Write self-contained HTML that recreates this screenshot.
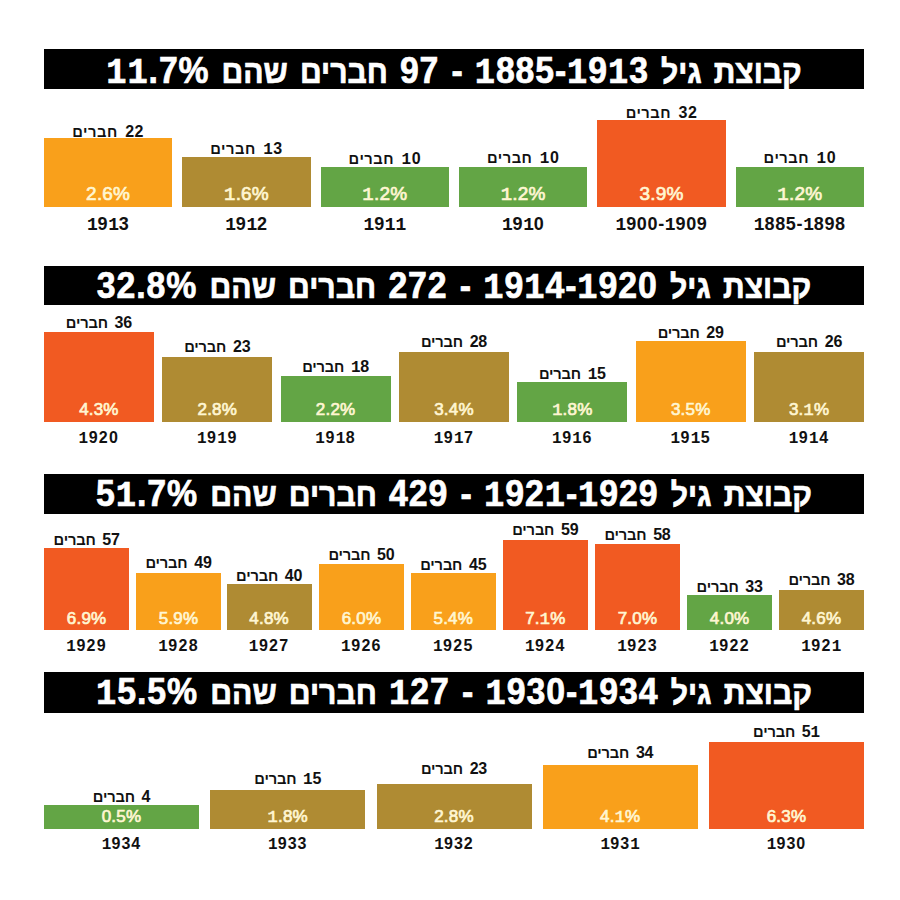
<!DOCTYPE html>
<html><head><meta charset="utf-8"><style>
html,body{margin:0;padding:0;background:#fff;}
body{width:900px;height:900px;position:relative;overflow:hidden;font-family:"Liberation Sans",sans-serif;}
.hd{position:absolute;left:44px;width:820px;background:#000;}
.ht{position:absolute;left:4px;width:900px;transform-origin:50% 50%;text-align:center;color:#fff;font-weight:bold;line-height:1;white-space:nowrap;font-size:37px;letter-spacing:0px;word-spacing:3px;-webkit-text-stroke:0.7px #fff;}
.bar{position:absolute;}
.t{position:absolute;text-align:center;font-weight:bold;line-height:1;white-space:nowrap;}
.cnt{color:#111;word-spacing:2.5px;}
.cnt b{font-size:0.92em;}
.pct{color:#FFF6D2;font-weight:normal !important;-webkit-text-stroke:0.7px #FFF6D2;}
.ht b{font-size:33px;font-weight:bold;}
.ht u{text-decoration:none;letter-spacing:1px;}
i{font-style:normal;font-family:"Liberation Mono",monospace;}
.yr i{margin-right:-0.8px;}
.yr{color:#111;}
</style></head><body>
<div class="hd" style="top:49.4px;height:40px"></div>
<div class="ht" dir="rtl" style="top:52.00px;transform:scaleX(0.912)"><b>קבוצת</b> <b>גיל</b> <u><i>1</i>885-<i>1</i>9<i>1</i>3</u> - <u>97</u> <b>חברים</b> <b>שהם</b> <u><i>1</i><i>1</i>.7%</u></div>
<div class="bar" style="left:44.00px;top:138.3px;width:128.33px;height:69.00px;background:#F9A01B"></div>
<div class="t cnt" dir="rtl" style="left:44.00px;width:128.33px;top:124.30px;font-size:16px;letter-spacing:0.5px">22 <b>חברים</b></div>
<div class="t pct" style="left:44.00px;width:128.33px;top:184.30px;font-size:19px;letter-spacing:0.2px">2.6%</div>
<div class="t yr" style="left:44.00px;width:128.33px;top:215.30px;font-size:18px;letter-spacing:0.6px"><i>1</i>9<i>1</i>3</div>
<div class="bar" style="left:182.33px;top:157.2px;width:128.33px;height:50.10px;background:#AF8B33"></div>
<div class="t cnt" dir="rtl" style="left:182.33px;width:128.33px;top:140.70px;font-size:16px;letter-spacing:0.5px"><i>1</i>3 <b>חברים</b></div>
<div class="t pct" style="left:182.33px;width:128.33px;top:184.30px;font-size:19px;letter-spacing:0.2px"><i>1</i>.6%</div>
<div class="t yr" style="left:182.33px;width:128.33px;top:215.30px;font-size:18px;letter-spacing:0.6px"><i>1</i>9<i>1</i>2</div>
<div class="bar" style="left:320.67px;top:167px;width:128.33px;height:40.30px;background:#63A545"></div>
<div class="t cnt" dir="rtl" style="left:320.67px;width:128.33px;top:150.50px;font-size:16px;letter-spacing:0.5px"><i>1</i>0 <b>חברים</b></div>
<div class="t pct" style="left:320.67px;width:128.33px;top:184.30px;font-size:19px;letter-spacing:0.2px"><i>1</i>.2%</div>
<div class="t yr" style="left:320.67px;width:128.33px;top:215.30px;font-size:18px;letter-spacing:0.6px"><i>1</i>9<i>1</i><i>1</i></div>
<div class="bar" style="left:459.00px;top:166.7px;width:128.33px;height:40.60px;background:#63A545"></div>
<div class="t cnt" dir="rtl" style="left:459.00px;width:128.33px;top:150.20px;font-size:16px;letter-spacing:0.5px"><i>1</i>0 <b>חברים</b></div>
<div class="t pct" style="left:459.00px;width:128.33px;top:184.30px;font-size:19px;letter-spacing:0.2px"><i>1</i>.2%</div>
<div class="t yr" style="left:459.00px;width:128.33px;top:215.30px;font-size:18px;letter-spacing:0.6px"><i>1</i>9<i>1</i>0</div>
<div class="bar" style="left:597.33px;top:119.5px;width:128.33px;height:87.80px;background:#F15A22"></div>
<div class="t cnt" dir="rtl" style="left:597.33px;width:128.33px;top:104.50px;font-size:16px;letter-spacing:0.5px">32 <b>חברים</b></div>
<div class="t pct" style="left:597.33px;width:128.33px;top:184.30px;font-size:19px;letter-spacing:0.2px">3.9%</div>
<div class="t yr" style="left:597.33px;width:128.33px;top:215.30px;font-size:18px;letter-spacing:0.65px"><i>1</i>900-<i>1</i>909</div>
<div class="bar" style="left:735.67px;top:166.7px;width:128.33px;height:40.60px;background:#63A545"></div>
<div class="t cnt" dir="rtl" style="left:735.67px;width:128.33px;top:150.20px;font-size:16px;letter-spacing:0.5px"><i>1</i>0 <b>חברים</b></div>
<div class="t pct" style="left:735.67px;width:128.33px;top:184.30px;font-size:19px;letter-spacing:0.2px"><i>1</i>.2%</div>
<div class="t yr" style="left:735.67px;width:128.33px;top:215.30px;font-size:18px;letter-spacing:0.65px"><i>1</i>885-<i>1</i>898</div>
<div class="hd" style="top:265.7px;height:39.8px"></div>
<div class="ht" dir="rtl" style="top:266.90px;transform:scaleX(0.915)"><b>קבוצת</b> <b>גיל</b> <u><i>1</i>9<i>1</i>4-<i>1</i>920</u> - <u>272</u> <b>חברים</b> <b>שהם</b> <u>32.8%</u></div>
<div class="bar" style="left:44.00px;top:331.5px;width:109.86px;height:90.30px;background:#F15A22"></div>
<div class="t cnt" dir="rtl" style="left:44.00px;width:109.86px;top:315.00px;font-size:16px;letter-spacing:-0.2px">36 <b>חברים</b></div>
<div class="t pct" style="left:44.00px;width:109.86px;top:400.80px;font-size:17px;letter-spacing:0.2px">4.3%</div>
<div class="t yr" style="left:44.00px;width:109.86px;top:430.30px;font-size:16px;letter-spacing:1.3px"><i>1</i>920</div>
<div class="bar" style="left:162.36px;top:356.7px;width:109.86px;height:65.10px;background:#AF8B33"></div>
<div class="t cnt" dir="rtl" style="left:162.36px;width:109.86px;top:339.20px;font-size:16px;letter-spacing:-0.2px">23 <b>חברים</b></div>
<div class="t pct" style="left:162.36px;width:109.86px;top:400.80px;font-size:17px;letter-spacing:0.2px">2.8%</div>
<div class="t yr" style="left:162.36px;width:109.86px;top:430.30px;font-size:16px;letter-spacing:1.3px"><i>1</i>9<i>1</i>9</div>
<div class="bar" style="left:280.71px;top:376.2px;width:109.86px;height:45.60px;background:#63A545"></div>
<div class="t cnt" dir="rtl" style="left:280.71px;width:109.86px;top:359.20px;font-size:16px;letter-spacing:-0.2px"><i>1</i>8 <b>חברים</b></div>
<div class="t pct" style="left:280.71px;width:109.86px;top:400.80px;font-size:17px;letter-spacing:0.2px">2.2%</div>
<div class="t yr" style="left:280.71px;width:109.86px;top:430.30px;font-size:16px;letter-spacing:1.3px"><i>1</i>9<i>1</i>8</div>
<div class="bar" style="left:399.07px;top:351.7px;width:109.86px;height:70.10px;background:#AF8B33"></div>
<div class="t cnt" dir="rtl" style="left:399.07px;width:109.86px;top:333.70px;font-size:16px;letter-spacing:-0.2px">28 <b>חברים</b></div>
<div class="t pct" style="left:399.07px;width:109.86px;top:400.80px;font-size:17px;letter-spacing:0.2px">3.4%</div>
<div class="t yr" style="left:399.07px;width:109.86px;top:430.30px;font-size:16px;letter-spacing:1.3px"><i>1</i>9<i>1</i>7</div>
<div class="bar" style="left:517.43px;top:381.7px;width:109.86px;height:40.10px;background:#63A545"></div>
<div class="t cnt" dir="rtl" style="left:517.43px;width:109.86px;top:365.70px;font-size:16px;letter-spacing:-0.2px"><i>1</i>5 <b>חברים</b></div>
<div class="t pct" style="left:517.43px;width:109.86px;top:400.80px;font-size:17px;letter-spacing:0.2px"><i>1</i>.8%</div>
<div class="t yr" style="left:517.43px;width:109.86px;top:430.30px;font-size:16px;letter-spacing:1.3px"><i>1</i>9<i>1</i>6</div>
<div class="bar" style="left:635.79px;top:341.3px;width:109.86px;height:80.50px;background:#F9A01B"></div>
<div class="t cnt" dir="rtl" style="left:635.79px;width:109.86px;top:325.30px;font-size:16px;letter-spacing:-0.2px">29 <b>חברים</b></div>
<div class="t pct" style="left:635.79px;width:109.86px;top:400.80px;font-size:17px;letter-spacing:0.2px">3.5%</div>
<div class="t yr" style="left:635.79px;width:109.86px;top:430.30px;font-size:16px;letter-spacing:1.3px"><i>1</i>9<i>1</i>5</div>
<div class="bar" style="left:754.14px;top:351.7px;width:109.86px;height:70.10px;background:#AF8B33"></div>
<div class="t cnt" dir="rtl" style="left:754.14px;width:109.86px;top:333.70px;font-size:16px;letter-spacing:-0.2px">26 <b>חברים</b></div>
<div class="t pct" style="left:754.14px;width:109.86px;top:400.80px;font-size:17px;letter-spacing:0.2px">3.<i>1</i>%</div>
<div class="t yr" style="left:754.14px;width:109.86px;top:430.30px;font-size:16px;letter-spacing:1.3px"><i>1</i>9<i>1</i>4</div>
<div class="hd" style="top:474px;height:40.3px"></div>
<div class="ht" dir="rtl" style="top:474.60px;transform:scaleX(0.915)"><b>קבוצת</b> <b>גיל</b> <u><i>1</i>92<i>1</i>-<i>1</i>929</u> - <u>429</u> <b>חברים</b> <b>שהם</b> <u>5<i>1</i>.7%</u></div>
<div class="bar" style="left:44.00px;top:548.2px;width:85.30px;height:82.20px;background:#F15A22"></div>
<div class="t cnt" dir="rtl" style="left:44.00px;width:85.30px;top:531.70px;font-size:16px;letter-spacing:-0.2px">57 <b>חברים</b></div>
<div class="t pct" style="left:44.00px;width:85.30px;top:610.20px;font-size:17px;letter-spacing:0.2px">6.9%</div>
<div class="t yr" style="left:44.00px;width:85.30px;top:637.90px;font-size:16px;letter-spacing:1.3px"><i>1</i>929</div>
<div class="bar" style="left:136.00px;top:572.9px;width:85.10px;height:57.50px;background:#F9A01B"></div>
<div class="t cnt" dir="rtl" style="left:136.00px;width:85.10px;top:555.40px;font-size:16px;letter-spacing:-0.2px">49 <b>חברים</b></div>
<div class="t pct" style="left:136.00px;width:85.10px;top:610.20px;font-size:17px;letter-spacing:0.2px">5.9%</div>
<div class="t yr" style="left:136.00px;width:85.10px;top:637.90px;font-size:16px;letter-spacing:1.3px"><i>1</i>928</div>
<div class="bar" style="left:226.70px;top:584px;width:84.90px;height:46.40px;background:#AF8B33"></div>
<div class="t cnt" dir="rtl" style="left:226.70px;width:84.90px;top:567.50px;font-size:16px;letter-spacing:-0.2px">40 <b>חברים</b></div>
<div class="t pct" style="left:226.70px;width:84.90px;top:610.20px;font-size:17px;letter-spacing:0.2px">4.8%</div>
<div class="t yr" style="left:226.70px;width:84.90px;top:637.90px;font-size:16px;letter-spacing:1.3px"><i>1</i>927</div>
<div class="bar" style="left:318.90px;top:564.4px;width:85.10px;height:66.00px;background:#F9A01B"></div>
<div class="t cnt" dir="rtl" style="left:318.90px;width:85.10px;top:546.90px;font-size:16px;letter-spacing:-0.2px">50 <b>חברים</b></div>
<div class="t pct" style="left:318.90px;width:85.10px;top:610.20px;font-size:17px;letter-spacing:0.2px">6.0%</div>
<div class="t yr" style="left:318.90px;width:85.10px;top:637.90px;font-size:16px;letter-spacing:1.3px"><i>1</i>926</div>
<div class="bar" style="left:410.70px;top:572.9px;width:85.30px;height:57.50px;background:#F9A01B"></div>
<div class="t cnt" dir="rtl" style="left:410.70px;width:85.30px;top:557.40px;font-size:16px;letter-spacing:-0.2px">45 <b>חברים</b></div>
<div class="t pct" style="left:410.70px;width:85.30px;top:610.20px;font-size:17px;letter-spacing:0.2px">5.4%</div>
<div class="t yr" style="left:410.70px;width:85.30px;top:637.90px;font-size:16px;letter-spacing:1.3px"><i>1</i>925</div>
<div class="bar" style="left:502.90px;top:539.9px;width:84.90px;height:90.50px;background:#F15A22"></div>
<div class="t cnt" dir="rtl" style="left:502.90px;width:84.90px;top:522.40px;font-size:16px;letter-spacing:-0.2px">59 <b>חברים</b></div>
<div class="t pct" style="left:502.90px;width:84.90px;top:610.20px;font-size:17px;letter-spacing:0.2px">7.<i>1</i>%</div>
<div class="t yr" style="left:502.90px;width:84.90px;top:637.90px;font-size:16px;letter-spacing:1.3px"><i>1</i>924</div>
<div class="bar" style="left:594.90px;top:543.9px;width:85.20px;height:86.50px;background:#F15A22"></div>
<div class="t cnt" dir="rtl" style="left:594.90px;width:85.20px;top:527.40px;font-size:16px;letter-spacing:-0.2px">58 <b>חברים</b></div>
<div class="t pct" style="left:594.90px;width:85.20px;top:610.20px;font-size:17px;letter-spacing:0.2px">7.0%</div>
<div class="t yr" style="left:594.90px;width:85.20px;top:637.90px;font-size:16px;letter-spacing:1.3px"><i>1</i>923</div>
<div class="bar" style="left:687.00px;top:595.1px;width:85.20px;height:35.30px;background:#63A545"></div>
<div class="t cnt" dir="rtl" style="left:687.00px;width:85.20px;top:579.10px;font-size:16px;letter-spacing:-0.2px">33 <b>חברים</b></div>
<div class="t pct" style="left:687.00px;width:85.20px;top:610.20px;font-size:17px;letter-spacing:0.2px">4.0%</div>
<div class="t yr" style="left:687.00px;width:85.20px;top:637.90px;font-size:16px;letter-spacing:1.3px"><i>1</i>922</div>
<div class="bar" style="left:778.90px;top:590px;width:85.10px;height:40.40px;background:#AF8B33"></div>
<div class="t cnt" dir="rtl" style="left:778.90px;width:85.10px;top:572.00px;font-size:16px;letter-spacing:-0.2px">38 <b>חברים</b></div>
<div class="t pct" style="left:778.90px;width:85.10px;top:610.20px;font-size:17px;letter-spacing:0.2px">4.6%</div>
<div class="t yr" style="left:778.90px;width:85.10px;top:637.90px;font-size:16px;letter-spacing:1.3px"><i>1</i>92<i>1</i></div>
<div class="hd" style="top:672.3px;height:40.4px"></div>
<div class="ht" dir="rtl" style="top:673.20px;transform:scaleX(0.915)"><b>קבוצת</b> <b>גיל</b> <u><i>1</i>930-<i>1</i>934</u> - <u><i>1</i>27</u> <b>חברים</b> <b>שהם</b> <u><i>1</i>5.5%</u></div>
<div class="bar" style="left:44.00px;top:805px;width:155.00px;height:23.60px;background:#63A545"></div>
<div class="t cnt" dir="rtl" style="left:44.00px;width:155.00px;top:788.50px;font-size:16px;letter-spacing:-0.2px">4 <b>חברים</b></div>
<div class="t pct" style="left:44.00px;width:155.00px;top:807.60px;font-size:17px;letter-spacing:0.2px">0.5%</div>
<div class="t yr" style="left:44.00px;width:155.00px;top:835.60px;font-size:16px;letter-spacing:1.0px"><i>1</i>934</div>
<div class="bar" style="left:210.25px;top:790px;width:155.00px;height:38.60px;background:#AF8B33"></div>
<div class="t cnt" dir="rtl" style="left:210.25px;width:155.00px;top:770.50px;font-size:16px;letter-spacing:-0.2px"><i>1</i>5 <b>חברים</b></div>
<div class="t pct" style="left:210.25px;width:155.00px;top:807.60px;font-size:17px;letter-spacing:0.2px"><i>1</i>.8%</div>
<div class="t yr" style="left:210.25px;width:155.00px;top:835.60px;font-size:16px;letter-spacing:1.0px"><i>1</i>933</div>
<div class="bar" style="left:376.50px;top:784.3px;width:155.00px;height:44.30px;background:#AF8B33"></div>
<div class="t cnt" dir="rtl" style="left:376.50px;width:155.00px;top:760.80px;font-size:16px;letter-spacing:-0.2px">23 <b>חברים</b></div>
<div class="t pct" style="left:376.50px;width:155.00px;top:807.60px;font-size:17px;letter-spacing:0.2px">2.8%</div>
<div class="t yr" style="left:376.50px;width:155.00px;top:835.60px;font-size:16px;letter-spacing:1.0px"><i>1</i>932</div>
<div class="bar" style="left:542.75px;top:765px;width:155.00px;height:63.60px;background:#F9A01B"></div>
<div class="t cnt" dir="rtl" style="left:542.75px;width:155.00px;top:744.90px;font-size:16px;letter-spacing:-0.2px">34 <b>חברים</b></div>
<div class="t pct" style="left:542.75px;width:155.00px;top:807.60px;font-size:17px;letter-spacing:0.2px">4.<i>1</i>%</div>
<div class="t yr" style="left:542.75px;width:155.00px;top:835.60px;font-size:16px;letter-spacing:1.0px"><i>1</i>93<i>1</i></div>
<div class="bar" style="left:709.00px;top:742px;width:155.00px;height:86.60px;background:#F15A22"></div>
<div class="t cnt" dir="rtl" style="left:709.00px;width:155.00px;top:724.10px;font-size:16px;letter-spacing:-0.2px">5<i>1</i> <b>חברים</b></div>
<div class="t pct" style="left:709.00px;width:155.00px;top:807.60px;font-size:17px;letter-spacing:0.2px">6.3%</div>
<div class="t yr" style="left:709.00px;width:155.00px;top:835.60px;font-size:16px;letter-spacing:1.0px"><i>1</i>930</div>
</body></html>
